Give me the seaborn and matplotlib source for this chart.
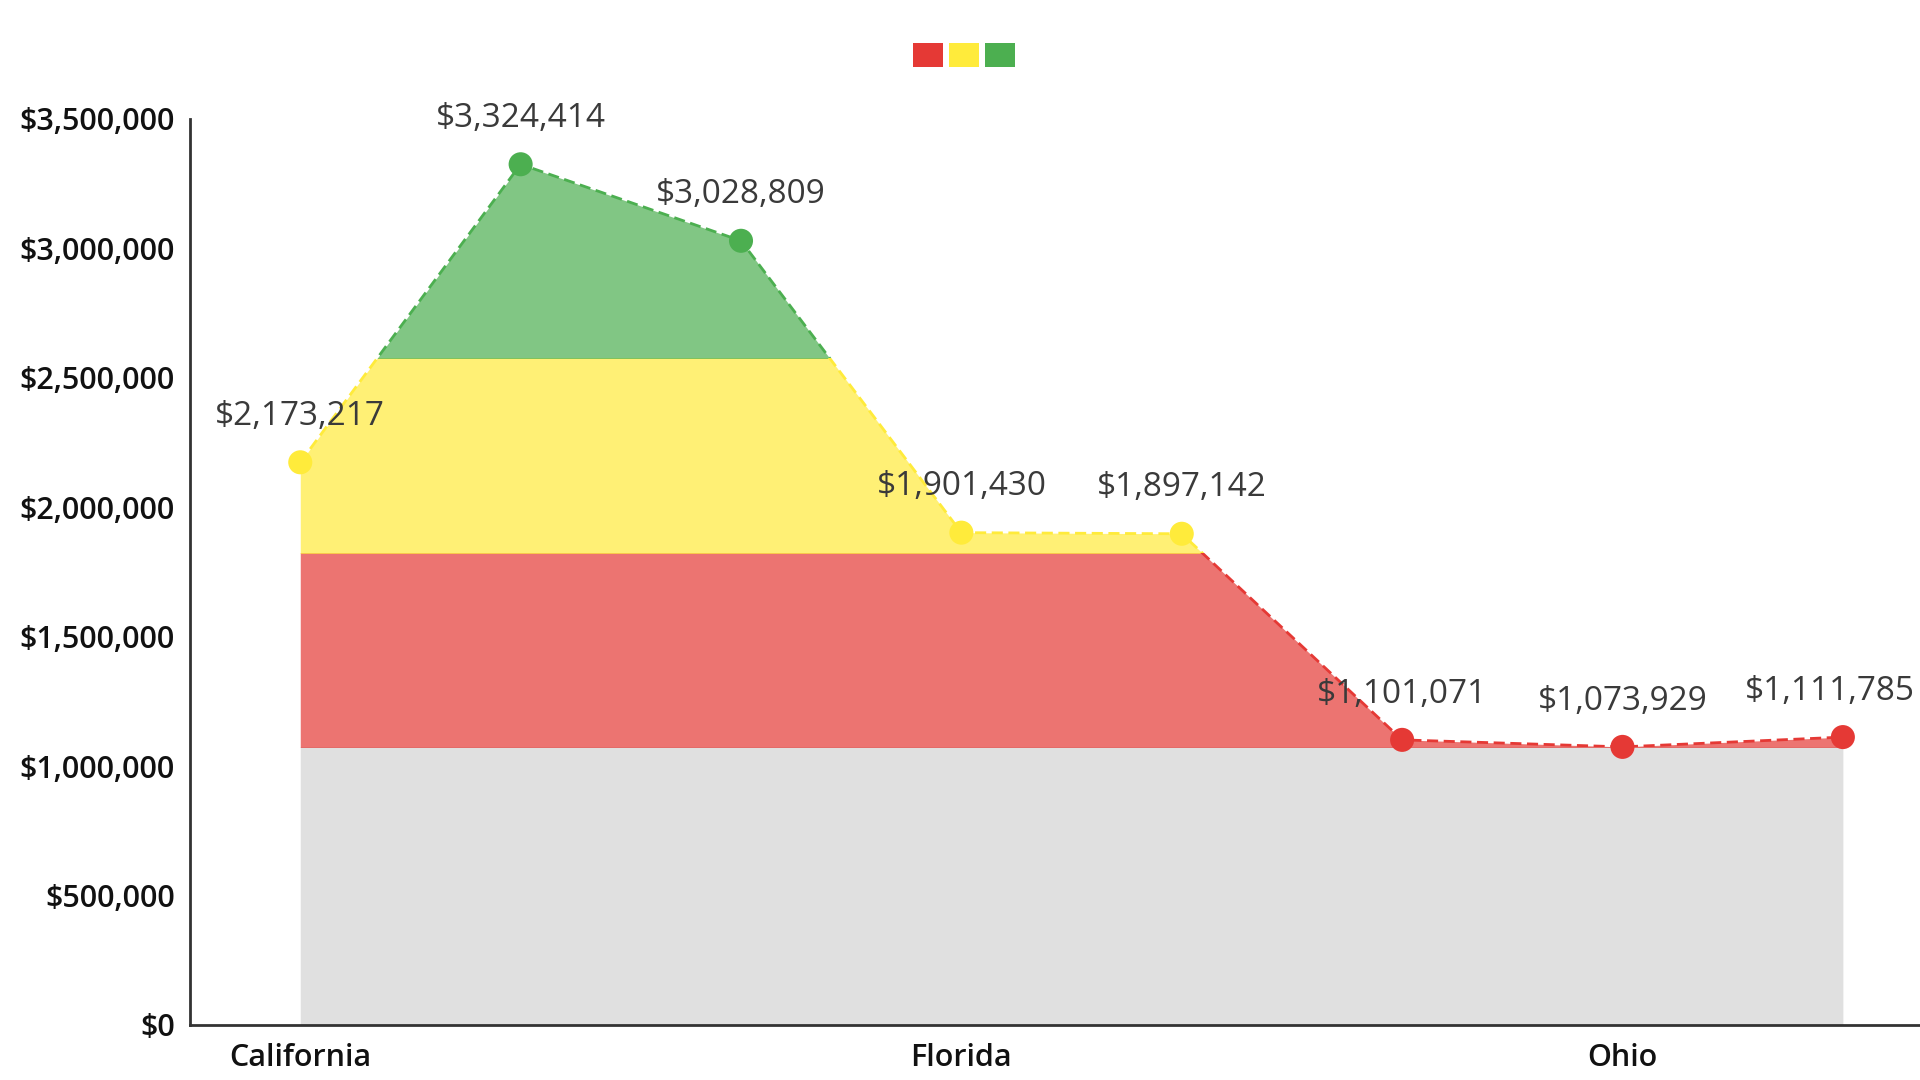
import numpy as np
import pandas as pd
import matplotlib.pyplot as plt
import seaborn as sns
from matplotlib.patches import Rectangle, Patch
from matplotlib.ticker import FuncFormatter

# data
values = [2173217, 3324414, 3028809, 1901430, 1897142, 1101071, 1073929, 1111785]
tick_labels = ["California", "Florida", "Ohio"]
band_names = ["low", "mid", "high"]
line_colors = ["#e53935", "#ffeb3b", "#4caf50"]
grey = "#e0e0e0"

sns.set_theme(style="white")
plt.rcParams["font.family"] = ["Open Sans", "DejaVu Sans"]

x = np.arange(len(values))
vals = np.array(values, dtype=float)

# bands: split min..max in thirds
lo, hi = vals.min(), vals.max()
edges = [0, lo, lo + (hi - lo) / 3, lo + 2 * (hi - lo) / 3, 3.5e6]
band_cols = [grey] + line_colors

def band_of(v):
    if v <= edges[2]:
        return "low"
    if v <= edges[3]:
        return "mid"
    return "high"

df = pd.DataFrame({"x": x, "value": vals, "band": [band_of(v) for v in vals]})

fig = plt.figure(figsize=(19.2, 10.8), dpi=100)
ax = fig.add_axes([0.099, 0.051, 0.901, 0.839])

for i in range(4):
    b0, b1 = edges[i], edges[i + 1]
    clip = Rectangle((-1, b0), len(values) + 2, b1 - b0, transform=ax.transData)
    if i == 0:
        poly = ax.fill_between(x, 0, vals, color=grey, linewidth=0)
    else:
        poly = ax.fill_between(x, 0, vals, color=band_cols[i], alpha=0.7, linewidth=0)
        ln, = ax.plot(x, vals, color=band_cols[i], linestyle=(0, (4, 2)), linewidth=2)
        ln.set_clip_path(clip)
    poly.set_clip_path(clip)

sns.scatterplot(data=df, x="x", y="value", hue="band", hue_order=band_names,
                palette=line_colors, s=300, edgecolor="none", legend=False,
                ax=ax, zorder=5)

for xi, v in zip(x, vals):
    dx = -9 if xi == x[-1] else 0  # keep the last label inside the figure
    ax.annotate(f"${v:,.0f}", (xi, v), xytext=(dx, 33), textcoords="offset points",
                ha="center", va="center", fontsize=24, color="#3a3a3a")

ax.set_xlim(-0.5, 7.35)
ax.set_ylim(0, 3.5e6)
ax.set_yticks(np.arange(0, 3.5e6 + 1, 5e5))
ax.yaxis.set_major_formatter(FuncFormatter(lambda v, p: f"${v:,.0f}"))
ax.set_xticks(x[::3])
ax.set_xticklabels(tick_labels)
ax.set_xlabel("")
ax.set_ylabel("")

for s in ["top", "right"]:
    ax.spines[s].set_visible(False)
for s in ["left", "bottom"]:
    ax.spines[s].set_color("#333333")
    ax.spines[s].set_linewidth(2)
ax.tick_params(axis="both", which="major", length=7, width=2, color="#333333",
               labelsize=22, labelcolor="#111111", pad=4)
ax.tick_params(axis="x", pad=6)
for t in ax.get_xticklabels() + ax.get_yticklabels():
    t.set_fontweight("semibold")

handles = [Patch(facecolor=c, edgecolor="none") for c in line_colors]
fig.legend(handles, ["", "", ""], loc="center", bbox_to_anchor=(0.502, 0.949),
           ncol=3, frameon=False, fontsize=14, handlelength=1.55, handleheight=1.55,
           handletextpad=0, columnspacing=0.3, borderpad=0)

fig.savefig("out.png", dpi=100)
